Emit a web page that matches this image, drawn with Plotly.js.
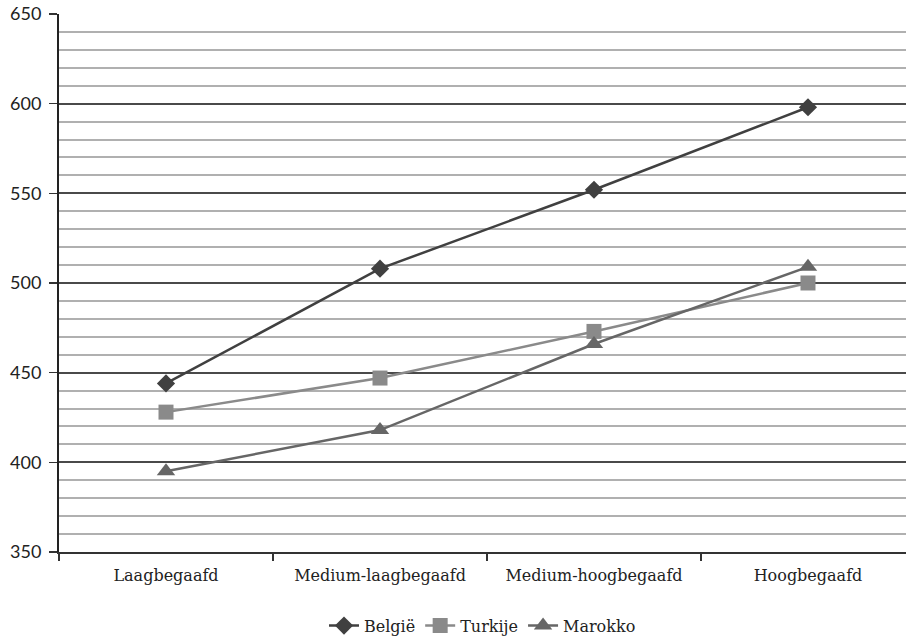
<!DOCTYPE html>
<html><head><meta charset="utf-8">
<script src="https://cdn.plot.ly/plotly-3.0.1.min.js"></script>
<style>html,body{margin:0;padding:0;background:#fff}</style>
</head><body>
<div id="chart" style="width:906px;height:643px"></div>
<script>
const categories = ["Laagbegaafd", "Medium-laagbegaafd", "Medium-hoogbegaafd", "Hoogbegaafd"];
const belgie = [444, 508, 552, 598];
const turkije = [428, 447, 473, 500];
const marokko = [395, 418, 466, 509];

const serif = "DejaVu Serif, Liberation Serif, serif";
const traces = [
  {name: "België", x: categories, y: belgie, type: "scatter", mode: "lines+markers",
   line: {color: "#404040", width: 2.5}, marker: {symbol: "diamond", size: 14, color: "#404040"}},
  {name: "Turkije", x: categories, y: turkije, type: "scatter", mode: "lines+markers",
   line: {color: "#8a8a8a", width: 2.5}, marker: {symbol: "square", size: 15, color: "#8a8a8a"}},
  {name: "Marokko", x: categories, y: marokko, type: "scatter", mode: "lines+markers",
   line: {color: "#666666", width: 2.5}, marker: {symbol: "triangle-up", size: 16, color: "#666666"}}
];
const layout = {
  width: 906, height: 643,
  margin: {l: 59, r: 0, t: 14, b: 89},
  paper_bgcolor: "#fff", plot_bgcolor: "#fff",
  showlegend: true,
  legend: {orientation: "h", x: 0.5, xanchor: "center", y: -0.137, yanchor: "middle",
           font: {family: serif, size: 16, color: "#222"}, itemwidth: 30, tracegroupgap: 0},
  xaxis: {type: "category", range: [-0.5, 3.458], showgrid: false, zeroline: false,
          showline: true, linecolor: "#333", linewidth: 2,
          ticks: "outside", tickson: "boundaries", ticklen: 7, tickcolor: "#333", tickwidth: 1.5,
          ticklabelstandoff: 8,
          tickfont: {family: serif, size: 16, color: "#222"}, fixedrange: true},
  yaxis: {range: [350, 650], dtick: 50, tick0: 350, showgrid: true, gridcolor: "#4a4a4a", gridwidth: 2,
          zeroline: false, showline: true, linecolor: "#222", linewidth: 2,
          ticks: "outside", ticklen: 8, tickcolor: "#333", tickwidth: 1.5,
          ticklabelstandoff: 4,
          tickfont: {family: "Lato, Open Sans, sans-serif", size: 18, color: "#222"},
          minor: {dtick: 10, tick0: 350, showgrid: true, gridcolor: "#b0b0b0", gridwidth: 2, ticks: ""},
          fixedrange: true}
};
Plotly.newPlot("chart", traces, layout, {displayModeBar: false, staticPlot: true});
</script>
</body></html>
